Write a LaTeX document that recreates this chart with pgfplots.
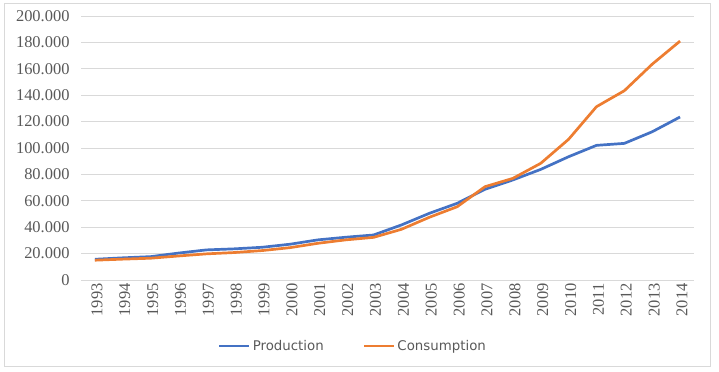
\documentclass[border=0pt]{standalone}
\usepackage{pgfplots}
\pgfplotsset{compat=1.18}
\usepackage{fontspec}
\setmainfont{Liberation Serif}
\newfontfamily\legfont{DejaVu Sans}
\definecolor{cprod}{HTML}{4472C4}
\definecolor{ccons}{HTML}{ED7D31}
\definecolor{cgrid}{HTML}{D9D9D9}
\definecolor{ctext}{HTML}{595959}
\begin{document}
\begin{tikzpicture}
\useasboundingbox (0,0) rectangle (719bp,372bp);
\draw[cgrid, line width=0.8bp] (4bp,6bp) rectangle (710.5bp,369bp);
\begin{axis}[
  at={(81bp,92bp)}, anchor=south west,
  scale only axis, width=613bp, height=264bp,
  xmin=-0.5, xmax=21.5, ymin=0, ymax=200000,
  xtick={0,...,21},
  xticklabels={1993,1994,1995,1996,1997,1998,1999,2000,2001,2002,2003,2004,2005,2006,2007,2008,2009,2010,2011,2012,2013,2014},
  ytick={0,20000,40000,60000,80000,100000,120000,140000,160000,180000,200000},
  yticklabels={0,20.000,40.000,60.000,80.000,100.000,120.000,140.000,160.000,180.000,200.000},
  scaled y ticks=false,
  yticklabel style={font=\fontsize{16.5}{16.5}\selectfont, text=ctext, xshift=-8bp},
  xticklabel style={font=\fontsize{16.5}{16.5}\selectfont, text=ctext, rotate=90, anchor=east, yshift=-2bp},
  major tick length=0pt,
  axis line style={draw=none},
  ymajorgrids, grid style={cgrid, line width=0.8bp},
  legend columns=2,
  legend style={draw=none, fill=none, at={(0.4437,-0.25)}, anchor=center,
    font=\legfont\fontsize{13.4}{13.4}\selectfont, text=ctext,
    /tikz/every even column/.append style={column sep=37bp}},
  legend image code/.code={\draw[#1] (0bp,0bp) -- (30bp,0bp);},
]
\addplot[cprod, line width=2.7bp, line join=round] coordinates {
(0,15700) (1,16800) (2,17700) (3,20400) (4,22800) (5,23600) (6,24800) (7,27100) (8,30400) (9,32400) (10,34100) (11,41700) (12,50500) (13,58100) (14,68700) (15,75800) (16,83800) (17,93400) (18,102000) (19,103500) (20,112300) (21,123500)};
\addlegendentry{Production}
\addplot[ccons, line width=2.7bp, line join=round] coordinates {
(0,15000) (1,15800) (2,16500) (3,18200) (4,19800) (5,20800) (6,22300) (7,24500) (8,27800) (9,30400) (10,32300) (11,38400) (12,47500) (13,55500) (14,70700) (15,77000) (16,88400) (17,106600) (18,131300) (19,143400) (20,163500) (21,181000)};
\addlegendentry{Consumption}
\end{axis}
\end{tikzpicture}
\end{document}
